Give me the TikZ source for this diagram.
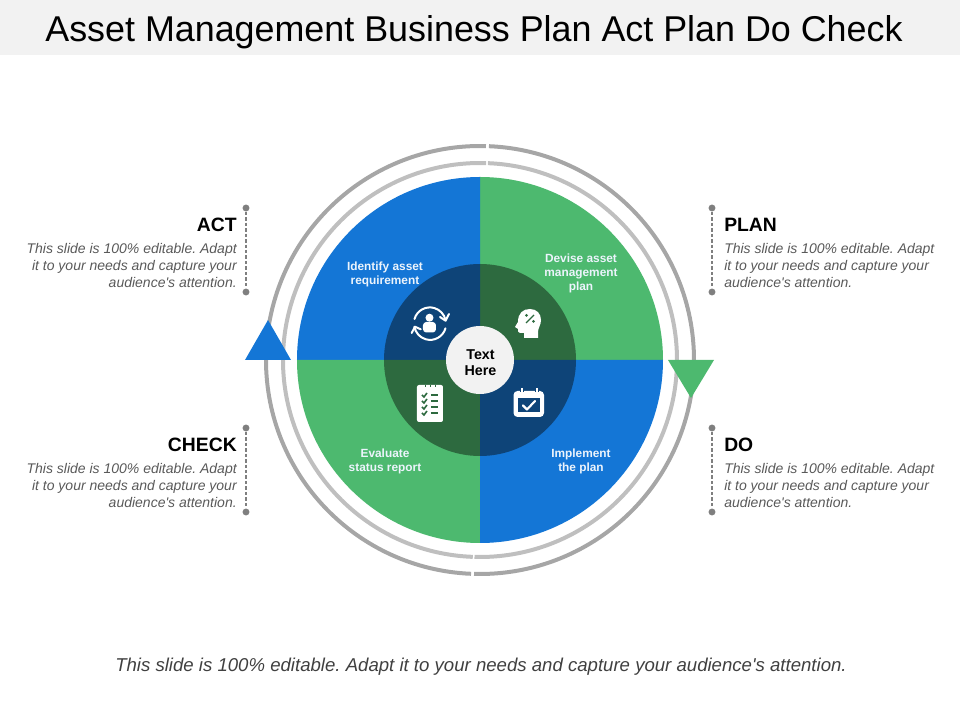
\documentclass[tikz,border=0pt]{standalone}
\usepackage{fontspec}
\setmainfont[Ligatures=TeXReset]{Liberation Sans}
\frenchspacing
\definecolor{blueQ}{HTML}{1476D6}
\definecolor{greenQ}{HTML}{4DB96F}
\definecolor{blueD}{HTML}{0E4478}
\definecolor{greenD}{HTML}{2D6A3F}
\definecolor{ringA}{HTML}{A6A6A6}
\definecolor{ringB}{HTML}{BFBFBF}
\definecolor{bandC}{HTML}{F2F2F2}
\definecolor{dotC}{HTML}{7F7F7F}
\definecolor{bodyC}{HTML}{595959}
\tikzset{
  head node/.style={inner sep=0pt,font=\bfseries\fontsize{14.5}{16}\selectfont},
  body node/.style={inner sep=0pt,text=bodyC,font=\itshape\fontsize{10.5}{12.45}\selectfont},
  quad node/.style={inner sep=0pt,align=center,text=white!92!blueQ,font=\bfseries\fontsize{8.9}{10.5}\selectfont},
  dot node/.style={circle,fill=dotC,inner sep=0pt,minimum size=5.2pt},
  leader/.style={draw=dotC,line width=1.4pt,dash pattern=on 2.6pt off 1.5pt},
  ring out/.style={draw=ringA,line width=3pt},
  ring in/.style={draw=ringB,line width=3pt},
  icon line/.style={draw=white,line width=1.5pt,line cap=round,line join=round}
}
\begin{document}
\begin{tikzpicture}[x=0.75pt,y=0.75pt]
  \useasboundingbox (-480,-360) rectangle (480,360);

  % title band
  \fill[bandC] (-480,305) rectangle (480,360);
  \node[inner sep=0pt,font=\fontsize{26.9}{30}\selectfont] (title) at (-6,328) {Asset Management Business Plan Act Plan Do Check};

  % rings
  \draw[ring out] (180:214) arc (180:267.6:214);
  \draw[ring out] (268.4:214) arc (268.4:360:214);
  \draw[ring out] (0:214) arc (0:87.6:214);
  \draw[ring out] (88.4:214) arc (88.4:180:214);
  \draw[ring in] (180:197) arc (180:267.9:197);
  \draw[ring in] (268.4:197) arc (268.4:360:197);
  \draw[ring in] (0:197) arc (0:87.7:197);
  \draw[ring in] (88.2:197) arc (88.2:180:197);

  % quadrants
  \fill[greenQ] (0,0) -- (0:183) arc (0:90:183) -- cycle;
  \fill[blueQ] (0,0) -- (90:183) arc (90:180:183) -- cycle;
  \fill[greenQ] (0,0) -- (180:183) arc (180:270:183) -- cycle;
  \fill[blueQ] (0,0) -- (270:183) arc (270:360:183) -- cycle;
  \fill[greenD] (0,0) -- (0:96) arc (0:90:96) -- cycle;
  \fill[blueD] (0,0) -- (90:96) arc (90:180:96) -- cycle;
  \fill[greenD] (0,0) -- (180:96) arc (180:270:96) -- cycle;
  \fill[blueD] (0,0) -- (270:96) arc (270:360:96) -- cycle;

  % triangles
  \fill[blueQ] (-235,0) -- (-189,0) -- (-212,40) -- cycle;
  \fill[greenQ] (188,0) -- (234,0) -- (211,-38) -- cycle;

  % centre
  \node[circle,fill=bandC,inner sep=0pt,minimum size=51pt] (hub) at (0,0) {};
  \node[inner sep=0pt,align=center,font=\bfseries\fontsize{10.7}{12}\selectfont] (hub text) at (0.5,-3) {Text\\Here};

  % quadrant labels
  \node[quad node] (identify) at (-95,86) {Identify asset\\requirement};
  \node[quad node] (devise) at (101,87) {Devise asset\\management\\plan};
  \node[quad node] (evaluate) at (-95,-101) {Evaluate\\status report};
  \node[quad node] (implement) at (101,-101) {Implement\\the plan};

  % leaders
  \node[dot node] (act a) at (-234,152) {};
  \node[dot node] (act b) at (-234,68) {};
  \node[dot node] (check a) at (-234,-68) {};
  \node[dot node] (check b) at (-234,-152) {};
  \node[dot node] (plan a) at (232,152) {};
  \node[dot node] (plan b) at (232,68) {};
  \node[dot node] (do a) at (232,-68) {};
  \node[dot node] (do b) at (232,-152) {};
  \draw[leader] (act a) -- (act b);
  \draw[leader] (check a) -- (check b);
  \draw[leader] (plan a) -- (plan b);
  \draw[leader] (do a) -- (do b);

  % side texts
  \node[head node,anchor=east] (act) at (-243,135) {ACT};
  \node[body node,anchor=east,align=right] (act text) at (-243,94.5) {This slide is 100\% editable. Adapt\\it to your needs and capture your\\audience's attention.};
  \node[head node,anchor=east] (check) at (-243,-85) {CHECK};
  \node[body node,anchor=east,align=right] (check text) at (-243,-125.5) {This slide is 100\% editable. Adapt\\it to your needs and capture your\\audience's attention.};
  \node[head node,anchor=west] (plan) at (244,135) {PLAN};
  \node[body node,anchor=west,align=left] (plan text) at (244,94.5) {This slide is 100\% editable. Adapt\\it to your needs and capture your\\audience's attention.};
  \node[head node,anchor=west] (do) at (244,-85) {DO};
  \node[body node,anchor=west,align=left] (do text) at (244,-125.5) {This slide is 100\% editable. Adapt\\it to your needs and capture your\\audience's attention.};

  % footer
  \node[inner sep=0pt,text=black!75,font=\itshape\fontsize{13.95}{16}\selectfont] (footer) at (1,-306.5) {This slide is 100\% editable. Adapt it to your needs and capture your audience's attention.};

  % icons, in pixel coordinates of the slide
  \begin{scope}[shift={(-480,360)},y=-0.75pt]
    % arrows round a person
    \draw[icon line] (414.5,319) arc (-164:-12:16);
    \draw[icon line] (440,317) -- (445.6,320.7) -- (449,314);
    \draw[icon line] (445.5,328.3) arc (16:170:16);
    \draw[icon line] (411.7,333) -- (415,326.7) -- (420.7,329.3);
    \fill[white] (429.5,317.7) circle (4);
    \fill[white,rounded corners=2.5] (423,332.5) -- (423,322) -- (436,322) -- (436,332.5) -- cycle;
    % head
    \fill[white] (524,338) -- (524,333) -- (520,333) .. controls (518,333) and (518,331) .. (518,329)
      -- (515,327) -- (518,322) .. controls (518,313) and (523,309) .. (530,309)
      .. controls (537,309) and (541,314) .. (541,320) .. controls (541,325) and (538,328) .. (538,332) -- (538,338) -- cycle;
    \draw[greenD,line width=0.9pt] (526,323) -- (534,315);
    \fill[greenD] (526.5,315.5) circle (1.5) (533.5,321.5) circle (1.5);
    % list
    \fill[white,rounded corners=1.5] (417,385) rectangle (443,422);
    \foreach \xa in {425,430,435}
      \draw[greenD,line width=0.6pt] (\xa,385) -- (\xa,387);
    \foreach \ya in {395,401,407,413} {
      \draw[greenD,line width=1.2pt] (422,\ya) -- (424,\ya+2) -- (427,\ya-2);
      \draw[greenD,line width=1.2pt] (431,\ya) -- (438,\ya);
    }
    % calendar
    \fill[white,rounded corners=3] (513.5,391) rectangle (544,417);
    \fill[blueD] (517.5,398) rectangle (540,412.5);
    \draw[blueD,line width=2.8pt] (522,387) -- (522,392) (537,387) -- (537,392);
    \draw[white,line width=1.4pt] (522,388) -- (522,393) (537,388) -- (537,393);
    \draw[icon line,line width=1.6pt] (523,405.5) -- (527,409.5) -- (535,401);
  \end{scope}
\end{tikzpicture}
\end{document}
